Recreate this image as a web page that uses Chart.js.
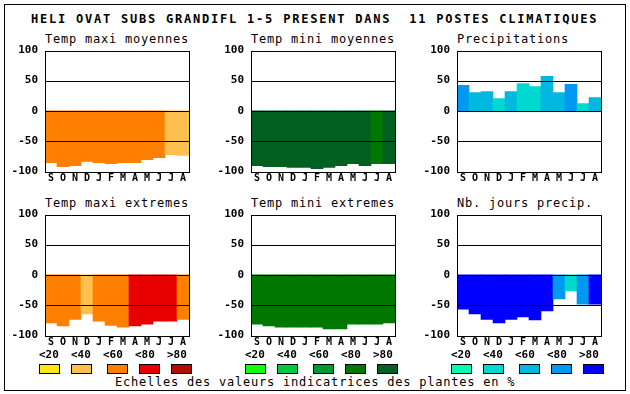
<!DOCTYPE html>
<html><head><meta charset="utf-8">
<script src="https://cdn.jsdelivr.net/npm/chart.js@4"></script>
<style>
html,body{margin:0;padding:0;background:#fff;}
#wrap{position:relative;width:630px;height:394px;overflow:hidden;background:#fff;}
.frame{position:absolute;left:4px;top:4px;width:622px;height:387px;border:1px solid #000;box-sizing:border-box;}
.t{position:absolute;font-family:"DejaVu Sans Mono",monospace;white-space:pre;line-height:1;color:#000;}
canvas{position:absolute;}
.box{position:absolute;width:21px;height:10px;border:1px solid #000;box-sizing:border-box;}
</style></head>
<body><div id="wrap"><div class="frame"></div></div>
<script>
// ---- data ----
const mainTitle = "HELI OVAT SUBS GRANDIFL 1-5 PRESENT DANS  11 POSTES CLIMATIQUES";
const legendTitle = "Echelles des valeurs indicatrices des plantes en %";
const months = ['S','O','N','D','J','F','M','A','M','J','J','A'];
const classLabels = ['<20','<40','<60','<80','>80'];
const yTickValues = [-100,-50,0,50,100];

const warmColors  = ['#F8E818','#FFC050','#FF8000','#E80000','#B01000'];
const greenColors = ['#10FF10','#00C840','#009830','#007800','#006020'];
const blueColors  = ['#00FFB0','#00D8D0','#00B8E0','#0098F0','#0000FF'];

const tmaxMoyValues  = [-86,-93,-91,-84,-86,-88,-86,-86,-81,-78,-73,-74];
const tmaxMoyClasses = [2,2,2,2,2,2,2,2,2,2,1,1];
const tminMoyValues  = [-91,-93,-93,-94,-94,-96,-94,-91,-88,-91,-88,-88];
const tminMoyClasses = [4,4,4,4,4,4,4,4,4,4,3,4];
const precipValues   = [42,30,32,20,32,45,40,57,30,44,12,22];
const precipClasses  = [3,2,2,1,2,1,1,2,2,3,1,2];
const tmaxExtValues  = [-80,-85,-74,-65,-77,-84,-87,-85,-82,-77,-77,-74];
const tmaxExtClasses = [2,2,2,1,2,2,2,3,3,3,3,2];
const tminExtValues  = [-82,-85,-87,-87,-87,-87,-90,-90,-82,-82,-82,-80];
const tminExtClasses = [3,3,3,3,3,3,3,3,3,3,3,3];
const nbJoursValues  = [-57,-65,-74,-80,-74,-70,-75,-60,-40,-27,-49,-49];
const nbJoursClasses = [4,4,4,4,4,4,4,4,3,1,3,4];

// ---- layout ----
const PLOT_W = 144, PLOT_H = 120, AX_W = 45, PAD_T = 8, AX_H = 16, PAD_R = 3;
const colX = [45, 251, 457];
const rowY = [50, 214];
const FONT = '"DejaVu Sans Mono", monospace';

const panels = [
  {title:'Temp maxi moyennes',  values:tmaxMoyValues, classes:tmaxMoyClasses, palette:warmColors,  col:0,row:0},
  {title:'Temp mini moyennes',  values:tminMoyValues, classes:tminMoyClasses, palette:greenColors, col:1,row:0},
  {title:'Precipitations',      values:precipValues,  classes:precipClasses,  palette:blueColors,  col:2,row:0},
  {title:'Temp maxi extremes',  values:tmaxExtValues, classes:tmaxExtClasses, palette:warmColors,  col:0,row:1},
  {title:'Temp mini extremes',  values:tminExtValues, classes:tminExtClasses, palette:greenColors, col:1,row:1},
  {title:'Nb. jours precip.',   values:nbJoursValues, classes:nbJoursClasses, palette:blueColors,  col:2,row:1}
];

const wrap = document.getElementById('wrap');
function addText(txt, x, capTop, size, bold, ls){
  const d = document.createElement('div');
  d.className = 't';
  d.textContent = txt;
  d.style.left = x + 'px';
  d.style.top = (capTop - 0.117*size) + 'px';
  d.style.fontSize = size + 'px';
  if (bold) d.style.fontWeight = 'bold';
  if (ls) d.style.letterSpacing = ls + 'px';
  wrap.appendChild(d);
}

addText(mainTitle, 31, 14, 12, true, 1.78);
addText(legendTitle, 115, 377, 12, false, 0.78);

const frameGrid = {
  id:'frameGrid',
  afterDatasetsDraw(chart){
    const {ctx, chartArea:{left,right,top,bottom}, scales:{y}} = chart;
    ctx.save();
    ctx.strokeStyle = '#000';
    ctx.lineWidth = 1;
    ctx.beginPath();
    yTickValues.slice(1,-1).forEach(v=>{
      const py = Math.round(y.getPixelForValue(v)) + 0.5;
      ctx.moveTo(left, py); ctx.lineTo(right, py);
    });
    ctx.stroke();
    ctx.strokeRect(Math.round(left)+0.5, Math.round(top)+0.5, Math.round(right-left), Math.round(bottom-top));
    ctx.restore();
  }
};

function makeConfig(p){
  return {
    type:'bar',
    data:{labels:months, datasets:[{data:p.values, backgroundColor:p.classes.map(k=>p.palette[k]),
      borderWidth:0, barPercentage:1, categoryPercentage:1}]},
    options:{
      responsive:false, maintainAspectRatio:false, animation:false, devicePixelRatio:1,
      layout:{padding:{top:PAD_T,right:PAD_R,left:0,bottom:0}},
      plugins:{legend:{display:false}, tooltip:{enabled:false}, title:{display:false}},
      scales:{
        x:{grid:{display:false,drawTicks:false}, border:{display:false},
           ticks:{color:'#000', font:{family:FONT,size:10,weight:'bold',lineHeight:1}, padding:2, autoSkip:false, maxRotation:0},
           afterFit(s){ s.height = AX_H; }},
        y:{min:-100, max:100, grid:{display:false,drawTicks:false}, border:{display:false},
           afterBuildTicks(s){ s.ticks = yTickValues.map(v=>({value:v})); },
           ticks:{color:'#000', font:{family:FONT,size:11,weight:'bold',lineHeight:1}, padding:7},
           afterFit(s){ s.width = AX_W; }}
      }
    },
    plugins:[frameGrid]
  };
}

panels.forEach(p=>{
  const px = colX[p.col], py = rowY[p.row];
  addText(p.title, px, py - 16, 12, false, 0.78);
  let w = AX_W + PLOT_W + PAD_R, h = PAD_T + PLOT_H + AX_H;
  let c, chart;
  for (let pass = 0; pass < 3; pass++){
    if (chart) { chart.destroy(); c.remove(); }
    c = document.createElement('canvas');
    c.width = w; c.height = h;
    c.style.width = w + 'px'; c.style.height = h + 'px';
    wrap.appendChild(c);
    chart = new Chart(c, makeConfig(p));
    const a = chart.chartArea;
    const dw = PLOT_W - (a.right - a.left), dh = PLOT_H - (a.bottom - a.top);
    if (Math.abs(dw) < 0.01 && Math.abs(dh) < 0.01) break;
    w += dw; h += dh;
  }
  const a = chart.chartArea;
  c.style.left = (px - a.left) + 'px';
  c.style.top = (py - a.top) + 'px';
});

// class labels and legend boxes
const boxOffsets = [0,32,68,100,132];
const palettes = [warmColors, greenColors, blueColors];
colX.forEach((px, ci)=>{
  classLabels.forEach((lab, k)=>{
    addText(lab, px - 6 + k*32, 350, 11, true, 0);
    const b = document.createElement('div');
    b.className = 'box';
    b.style.left = (px - 6 + boxOffsets[k]) + 'px';
    b.style.top = '364px';
    b.style.background = palettes[ci][k];
    wrap.appendChild(b);
  });
});
</script>
</body></html>
